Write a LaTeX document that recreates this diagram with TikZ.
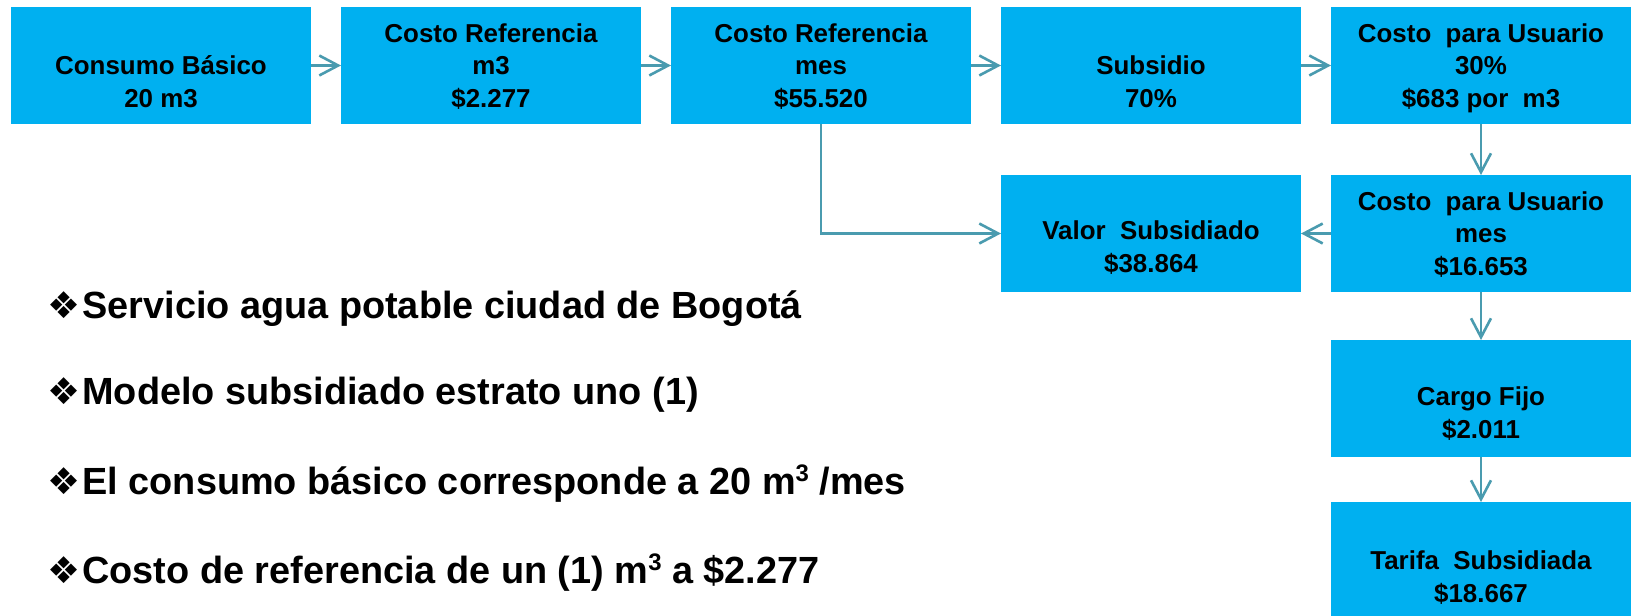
\documentclass[tikz,border=0pt]{standalone}
\usepackage{fontspec}
\setmainfont{Liberation Sans}
\newfontfamily\djv{DejaVu Sans}
\usetikzlibrary{arrows.meta}
\definecolor{boxblue}{HTML}{00B0F0}
\definecolor{arrteal}{HTML}{4A9BAF}
\newcommand{\bulsym}{{\djv\mdseries\fontsize{18.5}{18}\selectfont ❖}\hspace{1pt}}
\newcommand{\supthree}{\raisebox{0.33em}{\fontsize{12}{12}\selectfont 3}}
\begin{document}
\begin{tikzpicture}[x=0.5bp,y=-0.5bp,
  box/.style={fill=boxblue, draw=none, minimum width=150bp, minimum height=58.5bp, inner sep=0pt, outer sep=0pt},
  txt/.style={inner sep=0pt, align=center, anchor=south, font=\bfseries\fontsize{13}{16.5}\selectfont},
  arr/.style={draw=arrteal, line width=1.3pt, -{Straight Barb[length=9.5pt,width=10pt]}},
  bul/.style={inner sep=0pt, anchor=base west, font=\bfseries\fontsize{19}{22}\selectfont}]
\useasboundingbox (0,0) rectangle (1633,616);
\clip (0,0) rectangle (1633,616);
\fill[white] (0,0) rectangle (1633,616);
% boxes
\node[box] (b1) at (161,65.5) {};
\node[box] (b2) at (491,65.5) {};
\node[box] (b3) at (821,65.5) {};
\node[box] (b4) at (1151,65.5) {};
\node[box] (b5) at (1481,65.5) {};
\node[box] (val) at (1151,233.5) {};
\node[box] (cm) at (1481,233.5) {};
\node[box] (cf) at (1481,398.5) {};
\node[box] (ts) at (1481,560.5) {};
% texts
\node[txt] (t1) at ([yshift=3pt]b1.south) {Consumo Básico\\20 m3\strut};
\node[txt] (t2) at ([yshift=3pt]b2.south) {Costo Referencia\\m3\\\$2.277\strut};
\node[txt] (t3) at ([yshift=3pt]b3.south) {Costo Referencia\\mes\\\$55.520\strut};
\node[txt] (t4) at ([yshift=3pt]b4.south) {Subsidio\\70\%\strut};
\node[txt] (t5) at ([yshift=3pt]b5.south) {Costo\ \ para Usuario\\30\%\\\$683 por\ \ m3\strut};
\node[txt] (tval) at ([yshift=4.5pt]val.south) {Valor\ \ Subsidiado\\\$38.864\strut};
\node[txt] (tcm) at ([yshift=3pt]cm.south) {Costo\ \ para Usuario\\mes\\\$16.653\strut};
\node[txt] (tcf) at ([yshift=4pt]cf.south) {Cargo Fijo\\\$2.011\strut};
\node[txt] (tts) at ([yshift=3pt]ts.south) {Tarifa\ \ Subsidiada\\\$18.667\strut};
% connectors
\draw[arr] (b1.east) -- (b2.west);
\draw[arr] (b2.east) -- (b3.west);
\draw[arr] (b3.east) -- (b4.west);
\draw[arr] (b4.east) -- (b5.west);
\draw[arr] (b5.south) -- (cm.north);
\draw[arr] (cm.west) -- (val.east);
\draw[arr] (b3.south) |- (val.west);
\draw[arr] (cm.south) -- (cf.north);
\draw[arr] (cf.south) -- (ts.north);
% bullets
\node[bul] (l1) at (47,319) {\bulsym Servicio agua potable ciudad de Bogotá};
\node[bul] (l2) at (47,405) {\bulsym Modelo subsidiado estrato uno (1)};
\node[bul] (l3) at (47,494) {\bulsym El consumo básico corresponde a 20 m\supthree\ /mes};
\node[bul] (l4) at (47,583) {\bulsym Costo de referencia de un (1) m\supthree\ a \$2.277};
\end{tikzpicture}
\end{document}
